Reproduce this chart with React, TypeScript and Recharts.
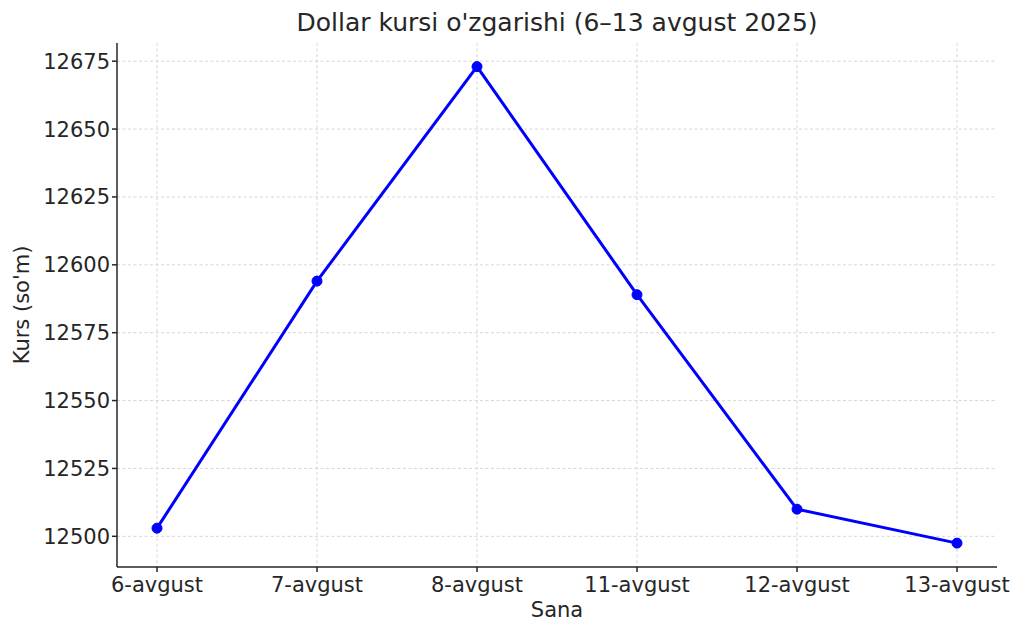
import React from 'react';
import { LineChart, Line, XAxis, YAxis, CartesianGrid, Label } from 'recharts';

const dates = ['6-avgust', '7-avgust', '8-avgust', '11-avgust', '12-avgust', '13-avgust'];
const rates = [12503, 12594, 12673, 12589, 12510, 12497.5];
const yTicks = [12500, 12525, 12550, 12575, 12600, 12625, 12650, 12675];
const yDomain = [12488.7, 12681.7];

const data = dates.map((d, i) => ({ date: d, rate: rates[i] }));

const FONT = 'DejaVu Sans';
const TEXT = '#262626';

export default function App() {
  return (
    <div style={{ position: 'absolute', left: 0, top: 0, width: 1024, height: 637, background: '#fff', fontFamily: FONT }}>
      <div style={{ position: 'absolute', left: 117, width: 880, top: 8, textAlign: 'center', fontSize: 25, color: TEXT, fontFamily: FONT, whiteSpace: 'nowrap' }}>
        Dollar kursi o'zgarishi (6–13 avgust 2025)
      </div>
      <LineChart width={1024} height={637} data={data} margin={{ top: 43, right: 27, bottom: 0, left: 0 }} style={{ position: 'absolute', left: 0, top: 0 }}>
        <CartesianGrid stroke="#d6d6d6" strokeDasharray="3 2.5" syncWithTicks />
        <XAxis
          dataKey="date"
          padding={{ left: 40, right: 40 }}
          height={70}
          interval={0}
          tickSize={5}
          tickMargin={5}
          stroke="#262626"
          strokeWidth={1.5}
          tick={{ fill: TEXT, fontSize: 21, fontFamily: FONT }}
        >
          <Label
            content={({ viewBox }: any) => (
              <text x={viewBox.x + viewBox.width / 2} y={viewBox.y + 50} textAnchor="middle" fill={TEXT} fontSize={21} fontFamily={FONT}>
                Sana
              </text>
            )}
          />
        </XAxis>
        <YAxis
          type="number"
          domain={yDomain}
          ticks={yTicks}
          width={117}
          interval={0}
          tickSize={5}
          tickMargin={2}
          stroke="#262626"
          strokeWidth={1.5}
          allowDataOverflow
          tick={{ fill: TEXT, fontSize: 21, fontFamily: FONT }}
        >
          <Label
            content={({ viewBox }: any) => {
              const cx = viewBox.x + 22;
              const cy = viewBox.y + viewBox.height / 2;
              return (
                <text x={cx} y={cy} transform={`rotate(-90 ${cx} ${cy})`} textAnchor="middle" dominantBaseline="central" fill={TEXT} fontSize={21} fontFamily={FONT}>
                  Kurs (so'm)
                </text>
              );
            }}
          />
        </YAxis>
        <Line
          type="linear"
          dataKey="rate"
          stroke="#0000ff"
          strokeWidth={3}
          dot={{ r: 5, fill: '#0000ff', stroke: '#0000ff', strokeWidth: 1 }}
          isAnimationActive={false}
        />
      </LineChart>
    </div>
  );
}
